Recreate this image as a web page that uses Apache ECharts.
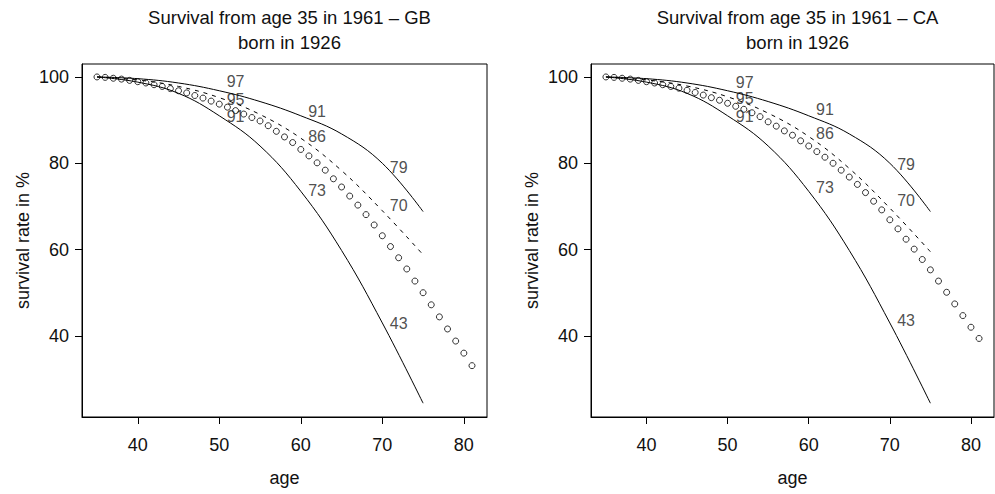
<!DOCTYPE html>
<html lang="en">
<head>
    <meta charset="UTF-8">
    <title>Survival from age 35 in 1961</title>
    <script src="https://cdn.jsdelivr.net/npm/echarts@6.0.0/dist/echarts.min.js"></script>
    <style>
        html, body { margin: 0; padding: 0; background: #fff; }
        #chart { width: 995px; height: 494px; }
    </style>
</head>
<body>
<div id="chart"></div>
<script>
    // ages of the dotted (observed) series
    var dotAges = [35, 36, 37, 38, 39, 40, 41, 42, 43, 44, 45, 46, 47, 48, 49, 50, 51, 52, 53, 54, 55, 56, 57, 58,
        59, 60, 61, 62, 63, 64, 65, 66, 67, 68, 69, 70, 71, 72, 73, 74, 75, 76, 77, 78, 79, 80, 81];
    var gbDots = [100, 99.9, 99.7, 99.5, 99.2, 98.9, 98.6, 98.2, 97.8, 97.3, 96.8, 96.3, 95.7, 95.1, 94.4, 93.7,
        93.0, 92.2, 91.4, 90.6, 89.8, 88.7, 87.4, 86.1, 84.8, 83.2, 81.7, 80.1, 78.4, 76.4, 74.5, 72.4, 70.3, 68.1,
        65.7, 63.2, 60.7, 58.1, 55.5, 52.7, 50.0, 47.2, 44.4, 41.6, 38.8, 36.0, 33.1];
    var caDots = [100, 99.9, 99.7, 99.5, 99.2, 98.9, 98.6, 98.2, 97.8, 97.4, 96.9, 96.4, 95.8, 95.2, 94.6, 93.9,
        93.2, 92.5, 91.7, 90.8, 89.6, 88.6, 87.5, 86.5, 85.2, 84.0, 82.7, 81.4, 80.0, 78.4, 76.8, 75.1, 73.2, 71.2,
        69.2, 66.9, 64.8, 62.4, 60.1, 57.7, 55.3, 52.7, 50.1, 47.4, 44.7, 42.0, 39.4];

    // the three model curves (read every 5 years)
    var curveAges = [35, 40, 45, 50, 55, 60, 65, 70, 75];
    var upperCurve = [100, 99.6, 98.6, 96.8, 94.3, 91.0, 86.8, 80.0, 68.8];
    var gbDashed = [100, 99.3, 97.8, 95.2, 91.3, 85.8, 78.3, 69.0, 58.8];
    var caDashed = [100, 99.3, 97.9, 95.4, 91.6, 86.2, 78.8, 69.6, 59.5];
    var lowerCurve = [100, 98.8, 96.2, 91.0, 84.0, 73.5, 59.8, 43.0, 24.4];

    // number labels inside the plots
    var labelTexts = ['97', '95', '91', '91', '86', '73', '79', '70', '43'];
    var gbLabelAges = [52, 52, 52, 62, 62, 62, 72, 72, 72];
    var gbLabelValues = [99.0, 94.85, 90.8, 92.1, 86.3, 73.6, 79.1, 70.2, 42.9];
    var caLabelAges = [52.1, 52.1, 52.1, 62, 62, 62, 72, 72, 72];
    var caLabelValues = [98.6, 95.0, 90.9, 92.5, 86.9, 74.4, 79.6, 71.3, 43.6];

    var xTicks = [40, 50, 60, 70, 80];
    var yTicks = [40, 60, 80, 100];
    var countries = ['GB', 'CA'];

    var FONT = 'Liberation Sans, Arial, sans-serif';

    function pairs(xs, ys) {
        return xs.map(function (x, i) { return [x, ys[i]]; });
    }

    var chart = echarts.init(document.getElementById('chart'), null, {renderer: 'svg'});

    var grids = [
        {left: 82, top: 64, width: 405, height: 353},
        {left: 591, top: 64, width: 403, height: 353}
    ];

    var option = {
        animation: false,
        backgroundColor: '#fff',
        title: [],
        grid: [],
        xAxis: [],
        yAxis: [],
        series: []
    };

    var panels = [
        {dots: gbDots, dashed: gbDashed, labelAges: gbLabelAges, labelValues: gbLabelValues},
        {dots: caDots, dashed: caDashed, labelAges: caLabelAges, labelValues: caLabelValues}
    ];

    panels.forEach(function (p, i) {
        var g = grids[i];
        option.title.push({
            text: 'Survival from age 35 in 1961 – ' + countries[i] + '\nborn in 1926',
            left: g.left + g.width / 2,
            top: 0,
            textAlign: 'center',
            textStyle: {fontFamily: FONT, fontSize: 18.5, fontWeight: 'normal', color: '#111', lineHeight: 25}
        });
        option.grid.push({
            left: g.left, top: g.top, width: g.width, height: g.height,
            show: true, borderColor: '#000', borderWidth: 1,
            outerBoundsMode: 'none'
        });
        option.xAxis.push({
            gridIndex: i, type: 'value', min: 33.16, max: 82.84,
            axisLine: {show: true, lineStyle: {color: '#000', width: 1}},
            axisTick: {show: true, length: 7, lineStyle: {color: '#000'}, customValues: xTicks},
            axisLabel: {customValues: xTicks, fontFamily: FONT, fontSize: 18, color: '#111', margin: 19},
            splitLine: {show: false},
            name: 'age', nameLocation: 'middle', nameGap: 52,
            nameTextStyle: {fontFamily: FONT, fontSize: 18, color: '#111'}
        });
        option.yAxis.push({
            gridIndex: i, type: 'value', min: 21.2, max: 103.0,
            axisLine: {show: true, lineStyle: {color: '#000', width: 1}},
            axisTick: {show: true, length: 7, lineStyle: {color: '#000'}, customValues: yTicks},
            axisLabel: {customValues: yTicks, fontFamily: FONT, fontSize: 18, color: '#111', margin: 13},
            splitLine: {show: false},
            name: 'survival rate in %', nameLocation: 'middle', nameGap: 50, nameRotate: 90,
            nameTextStyle: {fontFamily: FONT, fontSize: 18, color: '#111'}
        });

        var lineBase = {
            type: 'line', xAxisIndex: i, yAxisIndex: i, smooth: 0.4,
            showSymbol: false, silent: true
        };
        option.series.push(Object.assign({}, lineBase, {
            data: pairs(curveAges, upperCurve),
            lineStyle: {color: '#000', width: 1}
        }));
        option.series.push(Object.assign({}, lineBase, {
            data: pairs(curveAges, p.dashed),
            lineStyle: {color: '#000', width: 1, type: [4, 5]}
        }));
        option.series.push(Object.assign({}, lineBase, {
            data: pairs(curveAges, lowerCurve),
            lineStyle: {color: '#000', width: 1}
        }));
        option.series.push({
            type: 'scatter', xAxisIndex: i, yAxisIndex: i, silent: true,
            symbol: 'circle', symbolSize: 6,
            itemStyle: {color: 'rgba(0,0,0,0)', borderColor: '#000', borderWidth: 1},
            data: pairs(dotAges, p.dots)
        });
        option.series.push({
            type: 'scatter', xAxisIndex: i, yAxisIndex: i, silent: true,
            symbolSize: 0,
            label: {
                show: true, position: 'inside', fontFamily: FONT, fontSize: 16, color: '#222',
                formatter: function (d) { return labelTexts[d.dataIndex]; }
            },
            data: pairs(p.labelAges, p.labelValues)
        });
    });

    chart.setOption(option);
</script>
</body>
</html>
